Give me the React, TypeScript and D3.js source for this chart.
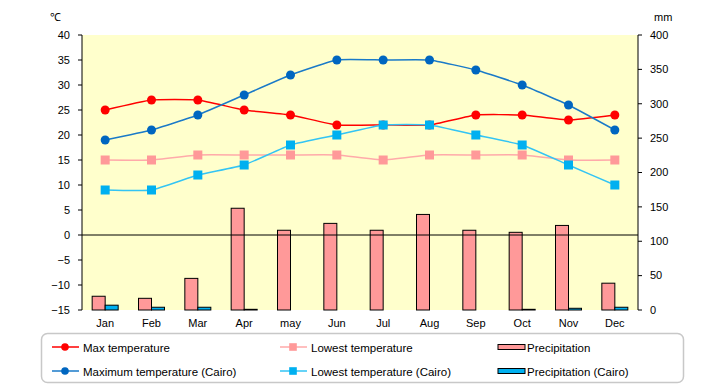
import React from 'react';
import * as d3 from 'd3';

const months = ['Jan', 'Feb', 'Mar', 'Apr', 'may', 'Jun', 'Jul', 'Aug', 'Sep', 'Oct', 'Nov', 'Dec'];
const maxTemp = [25, 27, 27, 25, 24, 22, 22, 22, 24, 24, 23, 24];
const lowTemp = [15, 15, 16, 16, 16, 16, 15, 16, 16, 16, 15, 15];
const cairoMax = [19, 21, 24, 28, 32, 35, 35, 35, 33, 30, 26, 21];
const cairoLow = [9, 9, 12, 14, 18, 20, 22, 22, 20, 18, 14, 10];
const precip = [20, 17, 46, 148, 116, 126, 116, 139, 116, 113, 123, 39];
const cairoPrecip = [7, 4, 4, 1, 0, 0, 0, 0, 0, 1, 2.5, 4];
const tempTicks = [40, 35, 30, 25, 20, 15, 10, 5, 0, -5, -10, -15];
const mmTicks = [400, 350, 300, 250, 200, 150, 100, 50, 0];

const left = 82, right = 638, top = 35, bottom = 310;
const font = '"Liberation Sans", Arial, sans-serif';

const x = d3.scaleBand<string>().domain(months).range([left, right]);
const yT = d3.scaleLinear().domain([-15, 40]).range([bottom, top]);
const yP = d3.scaleLinear().domain([0, 400]).range([bottom, top]);
const cx = (m: string) => (x(m) as number) + x.bandwidth() / 2;

// excel-ish smoothing, milder than plain catmull-rom
const lineGen = d3.line<number>()
    .x((_, i) => cx(months[i]))
    .y(d => yT(d))
    .curve(d3.curveCardinal.tension(0.6));

const series = [
    { name: 'Max temperature', data: maxTemp, line: '#ff0000', fill: '#ff0000', shape: 'circle' },
    { name: 'Lowest temperature', data: lowTemp, line: '#ffaaaa', fill: '#ff9999', shape: 'square' },
    { name: 'Maximum temperature (Cairo)', data: cairoMax, line: '#1a7ac8', fill: '#0066c0', shape: 'circle' },
    { name: 'Lowest temperature (Cairo)', data: cairoLow, line: '#33c4f4', fill: '#00b0f0', shape: 'square' },
];

function Marker({ shape, x, y, fill, r = 4.5 }: { shape: string; x: number; y: number; fill: string; r?: number }) {
    if (shape === 'circle') return <circle cx={x} cy={y} r={r} fill={fill} />;
    return <rect x={x - r} y={y - r} width={r * 2} height={r * 2} fill={fill} />;
}

export default function App() {
    const barW = 13;
    return (
        <svg width={720} height={385} style={{ position: 'absolute', left: 0, top: 0, fontFamily: font }}>
            <rect x={0} y={0} width={720} height={385} fill="#fff" />
            <rect x={left} y={top} width={right - left} height={bottom - top} fill="#ffffcc" />

            {/* bars */}
            {months.map((m, i) => (
                <g key={m} stroke="#000" strokeWidth={1}>
                    <rect x={cx(m) - barW} y={yP(precip[i])} width={barW} height={bottom - yP(precip[i])} fill="#ff9999" />
                    {cairoPrecip[i] > 0 && (
                        <rect x={cx(m)} y={yP(cairoPrecip[i])} width={barW} height={bottom - yP(cairoPrecip[i])} fill="#00b0f0" />
                    )}
                </g>
            ))}

            <line x1={left} x2={right} y1={yT(0)} y2={yT(0)} stroke="#000" strokeWidth={1} />

            {/* lines */}
            {series.map(s => (
                <g key={s.name}>
                    <path d={lineGen(s.data) as string} fill="none" stroke={s.line} strokeWidth={1.5} />
                    {s.data.map((v, i) => (
                        <Marker key={i} shape={s.shape} x={cx(months[i])} y={yT(v)} fill={s.fill} />
                    ))}
                </g>
            ))}

            {/* axes */}
            <line x1={left} x2={left} y1={top} y2={bottom} stroke="#000" />
            <line x1={right} x2={right} y1={top} y2={bottom} stroke="#000" />
            {tempTicks.map(t => (
                <g key={t}>
                    <line x1={left - 4} x2={left} y1={yT(t)} y2={yT(t)} stroke="#000" />
                    <text x={70} y={yT(t)} dy="0.35em" textAnchor="end" fontSize={11}>{t < 0 ? '\u2212' + Math.abs(t) : t}</text>
                </g>
            ))}
            {mmTicks.map(t => (
                <g key={t}>
                    <line x1={right} x2={right + 4} y1={yP(t)} y2={yP(t)} stroke="#000" />
                    <text x={650} y={yP(t)} dy="0.35em" fontSize={11}>{t}</text>
                </g>
            ))}
            {months.map(m => (
                <text key={m} x={cx(m)} y={323} dy="0.35em" textAnchor="middle" fontSize={11}>{m}</text>
            ))}
            <text x={50} y={17} dy="0.35em" fontSize={11}>℃</text>
            <text x={654} y={17} dy="0.35em" fontSize={11}>mm</text>

            {/* legend */}
            <rect x={41.5} y={333.5} width={642} height={49} rx={6} fill="#fff" stroke="#c8c8c8" strokeWidth={1.5} />
            {series.map((s, i) => {
                const colX = i === 0 || i === 2 ? 52 : 280;
                const rowY = i < 2 ? 347 : 371;
                return (
                    <g key={s.name}>
                        <line x1={colX} x2={colX + 27} y1={rowY} y2={rowY} stroke={s.line} strokeWidth={1.5} />
                        <Marker shape={s.shape} x={colX + 13} y={rowY} fill={s.fill} r={3.8} />
                        <text x={colX + 31} y={rowY + 1} dy="0.35em" fontSize={11.5}>{s.name}</text>
                    </g>
                );
            })}
            {[{ name: 'Precipitation', fill: '#ff9999', y: 347 }, { name: 'Precipitation (Cairo)', fill: '#00b0f0', y: 371 }].map(b => (
                <g key={b.name}>
                    <rect x={498} y={b.y - 2.5} width={27} height={5} fill={b.fill} stroke="#000" strokeWidth={1} />
                    <text x={527} y={b.y + 1} dy="0.35em" fontSize={11.5}>{b.name}</text>
                </g>
            ))}
        </svg>
    );
}
